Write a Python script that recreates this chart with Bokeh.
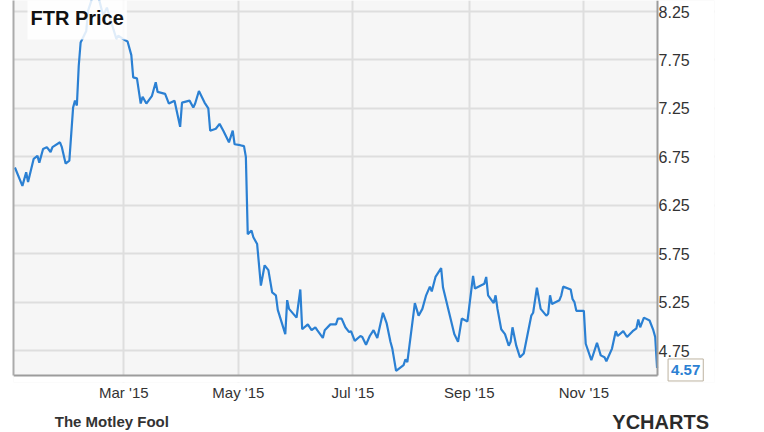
import pandas as pd
from bokeh.plotting import figure
from bokeh.layouts import column
from bokeh.models import (Range1d, FixedTicker, LinearAxis, Label, NumeralTickFormatter,
                          ColumnDataSource, BoxAnnotation)
from bokeh.embed import file_html
from bokeh.resources import INLINE

dates = [
    "2015-01-02", "2015-01-06", "2015-01-08", "2015-01-09", "2015-01-12", "2015-01-14", "2015-01-15",
    "2015-01-17", "2015-01-19", "2015-01-21", "2015-01-22", "2015-01-26", "2015-01-27", "2015-01-29", "2015-01-31",
    "2015-02-02", "2015-02-03", "2015-02-04", "2015-02-05", "2015-02-06", "2015-02-09", "2015-02-10",
    "2015-02-12", "2015-02-14", "2015-02-16", "2015-02-18", "2015-02-20", "2015-02-22", "2015-02-25", "2015-02-26",
    "2015-03-02", "2015-03-03", "2015-03-05", "2015-03-06", "2015-03-08", "2015-03-10", "2015-03-11",
    "2015-03-13", "2015-03-16", "2015-03-18", "2015-03-19", "2015-03-23", "2015-03-25", "2015-03-28", "2015-03-31",
    "2015-04-01", "2015-04-05", "2015-04-07", "2015-04-08", "2015-04-10", "2015-04-13", "2015-04-15",
    "2015-04-16", "2015-04-19", "2015-04-21", "2015-04-23", "2015-04-26", "2015-04-28", "2015-04-29",
    "2015-05-02", "2015-05-04", "2015-05-05", "2015-05-06", "2015-05-08", "2015-05-09", "2015-05-11", "2015-05-13",
    "2015-05-15", "2015-05-17", "2015-05-19", "2015-05-21", "2015-05-22", "2015-05-26", "2015-05-27", "2015-05-28",
    "2015-06-01", "2015-06-03", "2015-06-04", "2015-06-07", "2015-06-09", "2015-06-11", "2015-06-12", "2015-06-15",
    "2015-06-16", "2015-06-19", "2015-06-22", "2015-06-23", "2015-06-25", "2015-06-27", "2015-06-29", "2015-06-30",
    "2015-07-02", "2015-07-05", "2015-07-06", "2015-07-08", "2015-07-10", "2015-07-12", "2015-07-14", "2015-07-17",
    "2015-07-19", "2015-07-21", "2015-07-22", "2015-07-24", "2015-07-28", "2015-07-29", "2015-07-30",
    "2015-08-03", "2015-08-05", "2015-08-07", "2015-08-09", "2015-08-11", "2015-08-12", "2015-08-14", "2015-08-17",
    "2015-08-18", "2015-08-24", "2015-08-26", "2015-08-28", "2015-08-31",
    "2015-09-03", "2015-09-04", "2015-09-09", "2015-09-10", "2015-09-11", "2015-09-14", "2015-09-15", "2015-09-16",
    "2015-09-18", "2015-09-20", "2015-09-22", "2015-09-23", "2015-09-24", "2015-09-26", "2015-09-28", "2015-09-30",
    "2015-10-04", "2015-10-05", "2015-10-07", "2015-10-09", "2015-10-12", "2015-10-13", "2015-10-14", "2015-10-15",
    "2015-10-19", "2015-10-20", "2015-10-21", "2015-10-25", "2015-10-26", "2015-10-27", "2015-10-28",
    "2015-11-01", "2015-11-02", "2015-11-05", "2015-11-08", "2015-11-10", "2015-11-12", "2015-11-13", "2015-11-16",
    "2015-11-18", "2015-11-19", "2015-11-22", "2015-11-24", "2015-11-27", "2015-11-29", "2015-11-30",
    "2015-12-01", "2015-12-03", "2015-12-06", "2015-12-08", "2015-12-09", "2015-12-10",
]

prices = [
    6.64, 6.45, 6.59, 6.49, 6.73, 6.76, 6.69, 6.83, 6.85, 6.80, 6.85, 6.90, 6.85, 6.68, 6.71,
    7.26, 7.33, 7.28, 7.69, 7.93, 8.05, 8.26, 8.38, 8.45, 8.36, 8.21, 8.29, 8.16, 7.97, 8.00,
    7.95, 7.94, 7.80, 7.57, 7.56, 7.30, 7.37, 7.30, 7.38, 7.52, 7.42, 7.40, 7.30, 7.33, 7.06,
    7.31, 7.33, 7.26, 7.30, 7.43, 7.31, 7.25, 7.02, 7.04, 7.09, 7.02, 6.90, 7.02, 6.88,
    6.87, 6.86, 6.75, 5.95, 5.99, 5.92, 5.85, 5.42, 5.63, 5.58, 5.35, 5.32, 5.17, 4.92, 5.27, 5.18,
    5.09, 5.38, 4.97, 5.02, 4.96, 4.99, 4.96, 4.88, 4.96, 5.02, 5.02, 5.08, 5.08, 4.99, 4.94, 4.95,
    4.85, 4.90, 4.89, 4.81, 4.90, 4.96, 4.88, 5.14, 5.03, 4.84, 4.77, 4.54, 4.60, 4.66, 4.63,
    5.24, 5.11, 5.18, 5.32, 5.41, 5.36, 5.51, 5.60, 5.40, 4.92, 4.84, 5.08, 5.05,
    5.52, 5.39, 5.44, 5.51, 5.32, 5.24, 5.32, 5.18, 4.97, 4.92, 4.80, 4.84, 4.99, 4.80, 4.68, 4.72,
    5.11, 5.14, 5.40, 5.18, 5.11, 5.13, 5.32, 5.23, 5.27, 5.32, 5.41, 5.38, 5.28, 5.25, 5.16,
    5.16, 4.82, 4.65, 4.83, 4.70, 4.68, 4.64, 4.77, 4.95, 4.90, 4.95, 4.89, 4.95, 4.98, 5.07,
    4.99, 5.09, 5.06, 4.96, 4.89, 4.57,
]

x_tick_dates = ["2015-03-01", "2015-05-01", "2015-07-01", "2015-09-01", "2015-11-01"]
x_tick_labels = ["Mar '15", "May '15", "Jul '15", "Sep '15", "Nov '15"]
y_ticks = [4.75, 5.25, 5.75, 6.25, 6.75, 7.25, 7.75, 8.25]

title_text = "FTR Price"
brand_left = "The Motley Fool"
brand_right = "YCHARTS"

# data window; the frame reaches a little past it (right and below) so the value tag fits
x_start = pd.Timestamp("2015-01-01 06:00")
x_end_data = pd.Timestamp("2015-12-10 06:00")
x_end_plot = pd.Timestamp("2016-01-09 14:00")
y_lo, y_hi = 4.492, 8.364
y_lo_plot = 4.420

LINE = "#2b80d3"
FONT = "Liberation Sans"
AXIS = "#9c9c9c"

xs = pd.to_datetime(dates)
src = ColumnDataSource(data=dict(x=xs, y=prices))
tick_ms = [int(pd.Timestamp(d).value // 10**6) for d in x_tick_dates]
x_end_ms = x_end_data.value / 1e6
last_x = pd.Timestamp(dates[-1])
last_y = prices[-1]

p = figure(width=764, height=406, x_axis_type="datetime", y_axis_location="right",
           x_range=Range1d(x_start, x_end_plot), y_range=Range1d(y_lo_plot, y_hi),
           output_backend="svg", toolbar_location=None,
           min_border_left=13, min_border_right=50, min_border_top=0, min_border_bottom=24)

p.background_fill_color = "#f6f6f6"
p.border_fill_color = "white"
p.outline_line_color = None

p.xgrid.ticker = FixedTicker(ticks=tick_ms)
p.ygrid.ticker = FixedTicker(ticks=y_ticks)
for g in (p.xgrid, p.ygrid):
    g.grid_line_color = "#dedede"
    g.grid_line_width = 2

# white strips outside the data window (right of it and below it)
p.add_layout(BoxAnnotation(left=x_end_ms, fill_color="white", fill_alpha=1.0,
                           line_color=None, level="underlay"))
p.add_layout(BoxAnnotation(top=y_lo, fill_color="white", fill_alpha=1.0,
                           line_color=None, level="underlay"))

# bottom edge of the data window
p.segment(x0=[x_start], y0=[y_lo], x1=[x_end_data], y1=[y_lo], line_color=AXIS, line_width=2)

xa = p.xaxis[0]
xa.ticker = FixedTicker(ticks=tick_ms)
xa.major_label_overrides = {t: lab for t, lab in zip(tick_ms, x_tick_labels)}
xa.axis_line_color = None
xa.major_tick_line_color = None
xa.minor_tick_line_color = None
xa.major_tick_out = 0
xa.major_tick_in = 0
xa.major_label_standoff = 1
xa.major_label_text_font = FONT
xa.major_label_text_font_size = "15px"
xa.major_label_text_color = "#333333"

ya = p.yaxis[0]
ya.ticker = FixedTicker(ticks=y_ticks)
ya.formatter = NumeralTickFormatter(format="0.00")
ya.fixed_location = x_end_ms
ya.bounds = (y_lo, y_hi)
ya.axis_line_color = AXIS
ya.axis_line_width = 2
ya.major_tick_line_color = None
ya.minor_tick_line_color = None
ya.major_tick_out = 0
ya.major_tick_in = 0
ya.major_label_standoff = 1
ya.major_label_text_font = FONT
ya.major_label_text_font_size = "16px"
ya.major_label_text_color = "#333333"

left_border = LinearAxis(ticker=FixedTicker(ticks=[]), bounds=(y_lo, y_hi),
                         axis_line_color="#ababab", axis_line_width=2,
                         major_tick_line_color=None, minor_tick_line_color=None,
                         major_label_text_font_size="0px", major_label_standoff=0)
p.add_layout(left_border, "left")

p.line("x", "y", source=src, line_color=LINE, line_width=2.2)

p.add_layout(Label(x=x_start, y=y_hi, x_offset=14, y_offset=-17, text=title_text,
                   text_baseline="alphabetic", text_font=FONT, text_font_style="bold",
                   text_font_size="20px", text_color="#111111",
                   background_fill_color="white", background_fill_alpha=0.85, padding=(3, 11)))

p.add_layout(Label(x=last_x, y=last_y, x_offset=11, y_offset=-2, text=f"{last_y:.2f}",
                   text_baseline="middle", text_align="left", text_font=FONT, text_font_style="bold",
                   text_font_size="15px", text_color=LINE,
                   background_fill_color="white", background_fill_alpha=1.0,
                   border_line_color="#bdb3a0", border_line_width=1, padding=(3, 6)))

# footer strip with the two brand names
foot = figure(width=764, height=26, x_range=Range1d(0, 764), y_range=Range1d(0, 26),
              output_backend="svg", toolbar_location=None,
              x_axis_location=None, y_axis_location=None,
              min_border_left=0, min_border_right=0, min_border_top=0, min_border_bottom=0)
foot.grid.visible = False
foot.outline_line_color = None
foot.background_fill_color = "white"
foot.border_fill_color = "white"
foot.add_layout(Label(x=45, y=11, text=brand_left, text_baseline="alphabetic",
                      text_font=FONT, text_font_style="bold", text_font_size="15px",
                      text_color="#333333"))
foot.add_layout(Label(x=758, y=11, text=brand_right, text_baseline="alphabetic", text_align="right",
                      text_font=FONT, text_font_style="bold", text_font_size="20px",
                      text_color="#2b2b2b"))

layout = column(p, foot, spacing=0)
open("out.html", "w").write(file_html(layout, INLINE))
